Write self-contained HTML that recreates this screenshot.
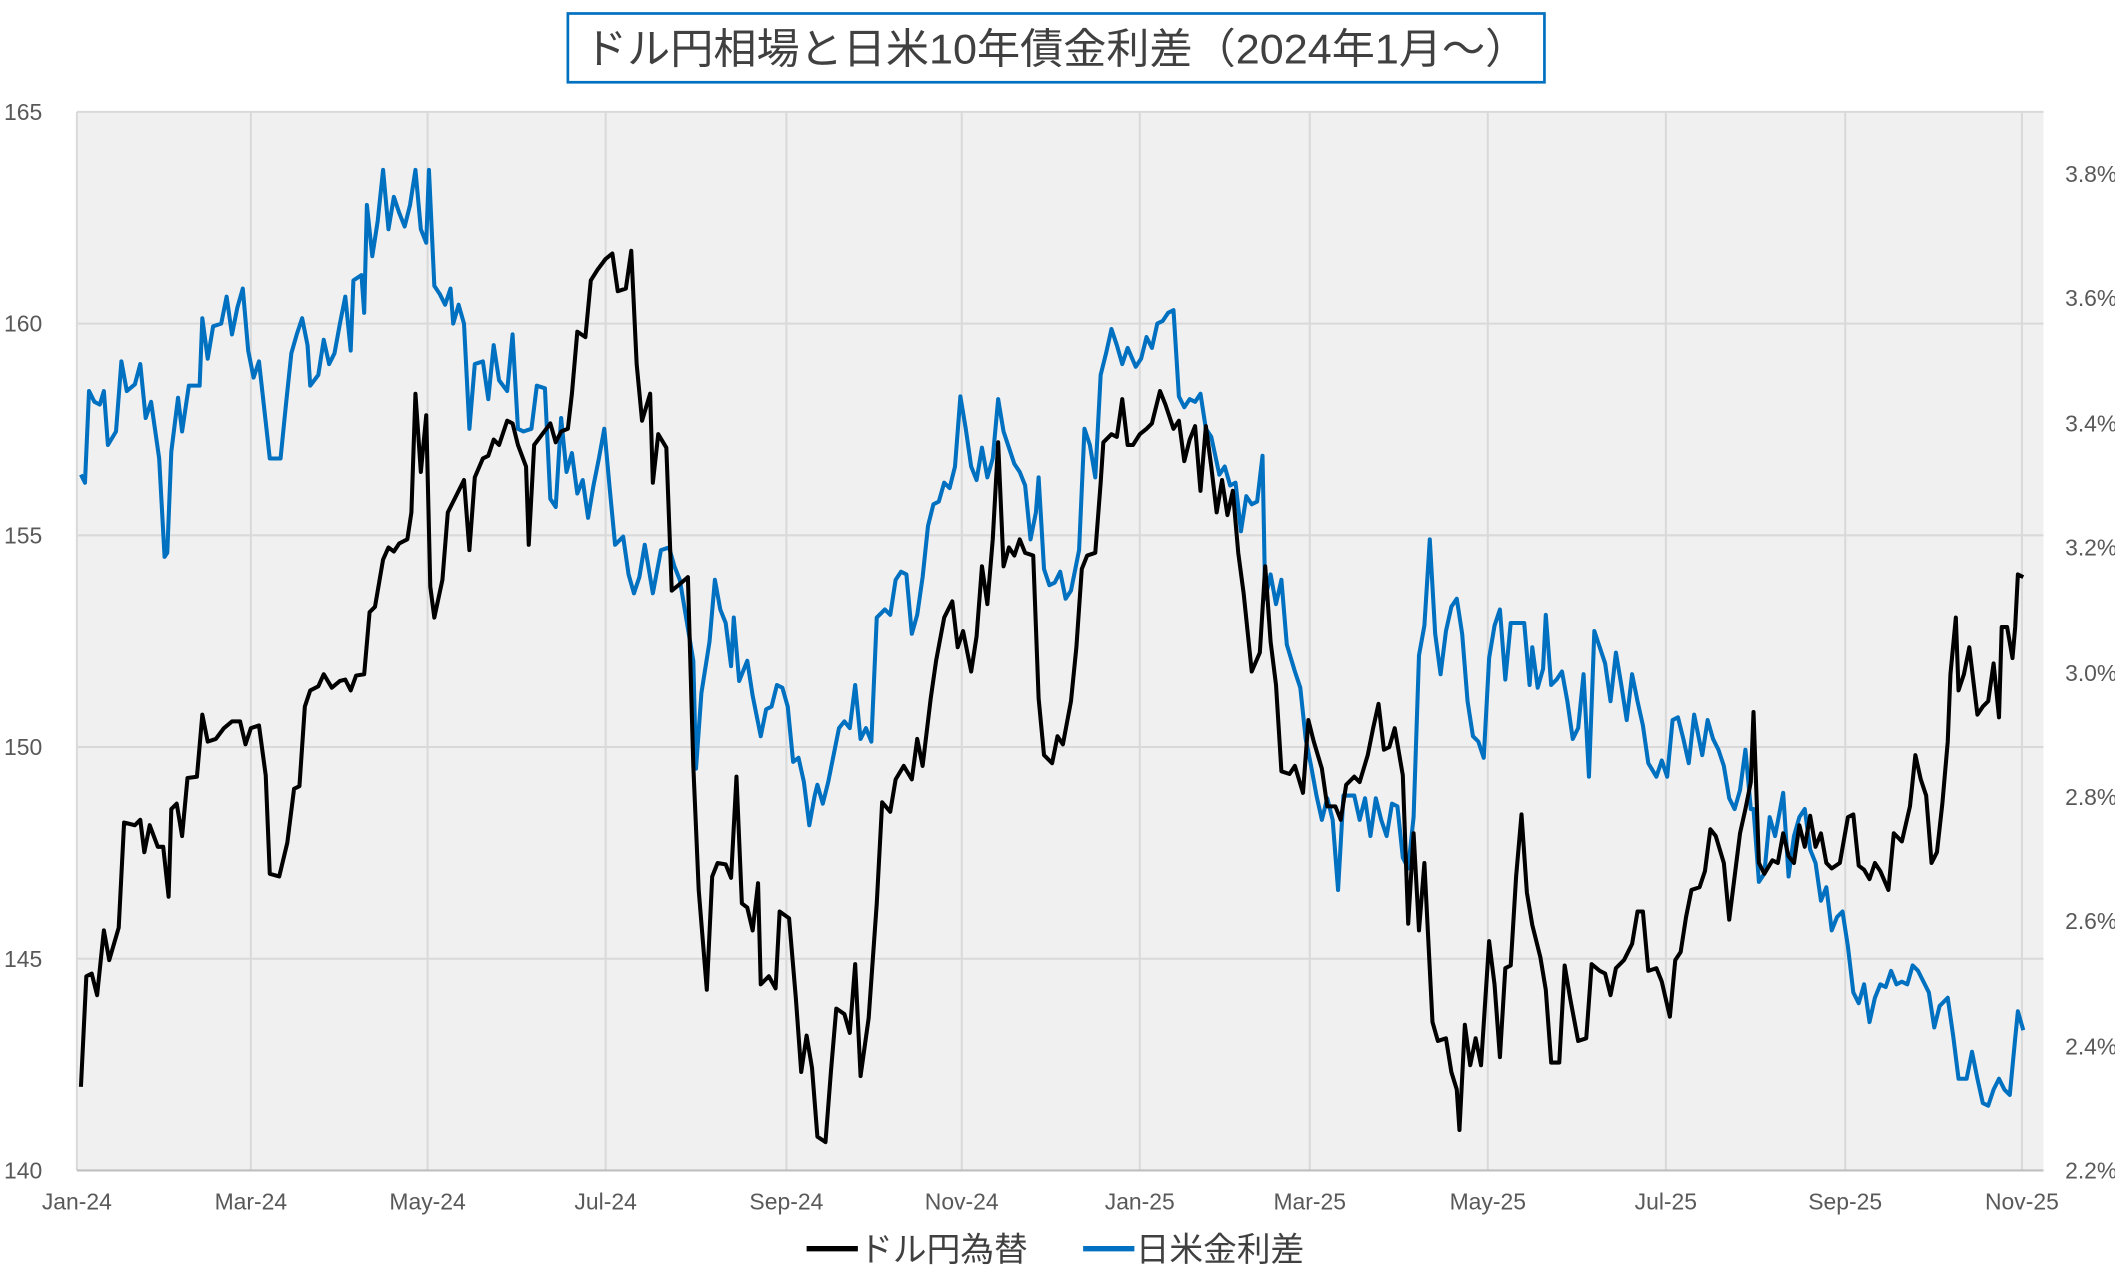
<!DOCTYPE html>
<html><head><meta charset="utf-8"><style>
html,body{margin:0;padding:0;background:#fff;}
svg{display:block;}
text{font-family:"Liberation Sans Narrow","Liberation Sans","Noto Sans CJK JP",sans-serif;fill:#595959;}
.jp{font-family:"Liberation Sans","Noto Sans CJK JP",sans-serif;}
</style></head><body>
<svg width="2115" height="1281" viewBox="0 0 1568 950" preserveAspectRatio="none" xmlns="http://www.w3.org/2000/svg">
<rect x="0" y="0" width="1568" height="950" fill="#fff"/>
<rect x="57" y="83" width="1458" height="785" fill="#f0f0f0"/>
<g stroke="#d9d9d9" stroke-width="1.5">
<line x1="57" y1="83" x2="1515" y2="83"/><line x1="57" y1="240" x2="1515" y2="240"/><line x1="57" y1="397" x2="1515" y2="397"/><line x1="57" y1="554" x2="1515" y2="554"/><line x1="57" y1="711" x2="1515" y2="711"/>
<line x1="186" y1="83" x2="186" y2="868"/><line x1="317" y1="83" x2="317" y2="868"/><line x1="449" y1="83" x2="449" y2="868"/><line x1="583" y1="83" x2="583" y2="868"/><line x1="713" y1="83" x2="713" y2="868"/><line x1="845" y1="83" x2="845" y2="868"/><line x1="971" y1="83" x2="971" y2="868"/><line x1="1103" y1="83" x2="1103" y2="868"/><line x1="1235" y1="83" x2="1235" y2="868"/><line x1="1368" y1="83" x2="1368" y2="868"/><line x1="1499" y1="83" x2="1499" y2="868"/>
<line x1="57" y1="83" x2="57" y2="868"/>
</g>
<line x1="57" y1="868" x2="1515" y2="868" stroke="#bfbfbf" stroke-width="1.5"/>
<g font-size="17" text-anchor="start">
<text x="3" y="89">165</text><text x="3" y="246">160</text><text x="3" y="403">155</text><text x="3" y="560">150</text><text x="3" y="717">145</text><text x="3" y="874">140</text>
</g>
<g font-size="17" text-anchor="start">
<text x="1531" y="135">3.8%</text><text x="1531" y="227">3.6%</text><text x="1531" y="320">3.4%</text><text x="1531" y="412">3.2%</text><text x="1531" y="505">3.0%</text><text x="1531" y="597">2.8%</text><text x="1531" y="689">2.6%</text><text x="1531" y="782">2.4%</text><text x="1531" y="874">2.2%</text>
</g>
<g font-size="17" text-anchor="middle">
<text x="57" y="897">Jan-24</text><text x="186" y="897">Mar-24</text><text x="317" y="897">May-24</text><text x="449" y="897">Jul-24</text><text x="583" y="897">Sep-24</text><text x="713" y="897">Nov-24</text><text x="845" y="897">Jan-25</text><text x="971" y="897">Mar-25</text><text x="1103" y="897">May-25</text><text x="1235" y="897">Jul-25</text><text x="1368" y="897">Sep-25</text><text x="1499" y="897">Nov-25</text>
</g>
<polyline fill="none" stroke="#0070c0" stroke-width="3" stroke-linejoin="round" points="60,352 63,358 66,290 70,298 74,300 77,290 80,330 86,320 90,268 94,290 100,285 104,270 108,310 112,298 118,340 122,413 124,410 127,335 132,295 135,320 140,286 148,286 150,236 154,266 158,242 164,240 168,220 172,248 176,228 180,214 184,260 188,280 192,268 196,304 200,340 208,340 212,300 216,262 220,248 224,236 228,256 230,286 236,278 240,252 244,270 248,262 252,240 256,220 260,260 262,208 268,204 270,232 272,152 276,190 280,164 284,126 288,170 292,146 296,158 300,168 304,152 308,126 312,170 316,180 318,126 322,212 326,218 330,226 334,214 336,240 340,226 344,240 348,318 352,270 358,268 362,296 366,256 370,282 376,290 380,248 384,318 388,320 394,318 398,286 404,288 408,370 412,376 416,310 420,350 424,336 428,366 432,356 436,384 440,360 444,340 448,318 452,362 456,404 462,398 466,426 470,440 474,428 478,404 484,440 490,408 496,406 500,420 504,430 510,466 514,490 516,570 520,514 526,476 530,430 534,452 538,462 542,494 544,458 548,505 554,490 558,516 564,546 568,526 572,524 576,508 580,510 584,524 588,565 592,562 596,580 600,612 604,590 606,582 610,596 614,580 618,560 622,540 626,535 630,540 634,508 638,548 642,540 646,550 650,458 656,452 660,456 664,430 668,424 672,426 676,470 680,456 684,428 688,390 692,374 696,372 700,358 704,362 708,346 712,294 716,318 720,346 724,356 728,332 732,354 736,340 740,296 744,320 748,332 752,344 756,350 760,360 764,400 768,380 770,354 774,422 778,434 782,432 786,424 790,444 794,438 798,418 800,408 804,318 808,330 812,354 816,278 820,262 824,244 828,256 832,270 836,258 842,272 846,266 850,250 854,258 858,240 862,238 866,232 870,230 874,294 878,302 882,296 886,298 890,292 894,318 898,324 904,352 908,346 912,360 916,358 920,394 924,368 928,374 932,372 936,338 938,444 942,426 946,448 950,430 954,478 960,498 964,510 968,548 972,568 976,590 980,608 984,592 988,608 992,660 996,590 1000,590 1004,590 1008,608 1012,592 1016,620 1020,592 1024,608 1028,620 1032,596 1036,598 1040,636 1044,644 1048,606 1052,486 1056,464 1060,400 1064,470 1068,500 1072,468 1076,450 1080,444 1084,470 1088,520 1092,546 1096,550 1100,562 1104,488 1108,464 1112,452 1116,504 1120,462 1126,462 1130,462 1134,508 1136,480 1140,510 1144,496 1146,456 1150,508 1154,504 1158,498 1162,520 1166,548 1170,540 1174,500 1178,576 1182,468 1186,480 1190,492 1194,520 1198,484 1202,508 1206,534 1210,500 1214,520 1218,538 1222,566 1228,576 1232,564 1236,576 1240,534 1244,532 1248,548 1252,566 1256,530 1262,560 1266,534 1270,548 1274,556 1278,568 1282,592 1286,600 1290,586 1294,556 1298,600 1300,600 1304,654 1308,648 1312,606 1316,620 1322,588 1326,650 1330,620 1334,606 1338,600 1342,630 1346,640 1350,668 1354,658 1358,690 1362,680 1366,676 1370,702 1374,736 1378,744 1382,730 1386,758 1390,740 1394,730 1398,732 1402,720 1406,730 1410,728 1414,730 1418,716 1422,720 1426,728 1430,736 1434,762 1438,746 1444,740 1448,768 1452,800 1458,800 1462,780 1466,800 1470,818 1474,820 1478,808 1482,800 1486,808 1490,812 1494,770 1496,750 1500,764"/>
<polyline fill="none" stroke="#000" stroke-width="3" stroke-linejoin="round" points="60,806 64,724 68,722 72,738 77,690 81,712 88,688 92,610 100,612 104,608 107,632 111,612 117,628 121,628 125,665 127,600 131,596 135,620 139,577 146,576 150,530 154,550 160,548 166,540 172,535 178,535 182,552 186,540 192,538 197,575 200,648 207,650 213,625 218,585 222,583 226,524 230,512 236,509 240,500 246,510 252,505 256,504 260,512 264,501 270,500 274,454 278,450 284,415 288,406 292,409 296,403 302,400 305,380 308,292 312,350 316,308 319,435 322,458 328,430 332,380 338,368 344,356 348,408 352,354 358,340 362,338 366,326 370,330 376,312 380,314 384,330 390,346 392,404 396,330 402,322 408,314 412,328 416,320 421,318 424,292 428,246 434,250 438,208 443,200 449,192 454,188 458,216 464,214 468,186 472,270 476,312 482,292 484,358 488,322 494,332 498,438 503,434 510,428 514,568 518,660 524,734 528,650 532,640 538,641 542,651 546,576 550,670 554,673 558,690 562,655 564,730 570,724 575,733 578,676 585,681 590,740 594,795 598,768 602,792 606,843 612,847 616,795 620,748 626,752 630,766 634,715 638,798 644,755 650,670 654,595 660,602 664,578 670,568 676,578 680,548 684,568 690,518 694,490 700,458 706,446 710,480 714,468 720,498 724,472 728,420 732,448 736,400 740,328 744,420 748,406 752,412 756,400 760,410 766,412 770,518 774,560 780,566 784,546 788,552 794,520 798,480 802,422 806,412 812,410 816,358 818,328 824,322 828,324 832,296 836,330 840,330 845,322 850,318 854,314 860,290 864,300 870,318 874,312 878,342 882,326 886,316 890,364 894,316 898,346 902,380 906,356 910,382 914,364 918,410 922,440 928,498 934,484 938,420 942,476 946,508 950,572 956,574 960,568 966,588 970,534 974,550 980,570 984,598 990,598 994,608 998,582 1004,576 1008,580 1014,560 1018,540 1022,522 1026,556 1030,554 1034,540 1040,575 1044,685 1048,618 1052,690 1056,640 1062,758 1066,772 1072,770 1076,795 1080,808 1082,838 1086,760 1090,790 1094,770 1098,790 1104,698 1108,730 1112,784 1116,718 1120,716 1124,650 1128,604 1132,662 1136,686 1142,710 1146,734 1150,788 1156,788 1160,716 1164,740 1170,772 1176,770 1180,715 1186,720 1190,722 1194,738 1198,718 1204,712 1210,700 1214,676 1218,676 1222,720 1228,718 1232,728 1238,754 1242,712 1246,706 1250,680 1254,660 1260,658 1264,646 1268,615 1272,620 1278,640 1282,682 1286,650 1290,618 1294,600 1298,580 1300,528 1304,640 1308,648 1314,638 1318,640 1322,618 1326,635 1330,640 1334,612 1338,628 1342,605 1346,628 1350,618 1354,640 1358,644 1364,640 1370,606 1374,604 1378,642 1382,645 1386,652 1390,640 1394,646 1400,660 1404,618 1410,624 1416,598 1420,560 1424,578 1428,590 1432,640 1436,632 1440,596 1444,550 1446,500 1450,458 1452,512 1456,500 1460,480 1466,530 1470,524 1474,520 1478,492 1482,532 1484,465 1488,465 1492,488 1494,465 1496,426 1500,428"/>
<rect x="421" y="10" width="724" height="51" fill="#fff" stroke="#0070c0" stroke-width="2"/>
<text class="jp" x="783" y="47" font-size="31" text-anchor="middle" fill="#404040" style="fill:#404040" textLength="700" lengthAdjust="spacingAndGlyphs">ドル円相場と日米10年債金利差（2024年1月～）</text>
<line x1="598" y1="926" x2="636" y2="926" stroke="#000" stroke-width="4"/>
<text class="jp" x="637" y="935" font-size="25" style="fill:#404040">ドル円為替</text>
<line x1="803" y1="926" x2="841" y2="926" stroke="#0070c0" stroke-width="4"/>
<text class="jp" x="842" y="935" font-size="25" style="fill:#404040">日米金利差</text>
</svg>
</body></html>
